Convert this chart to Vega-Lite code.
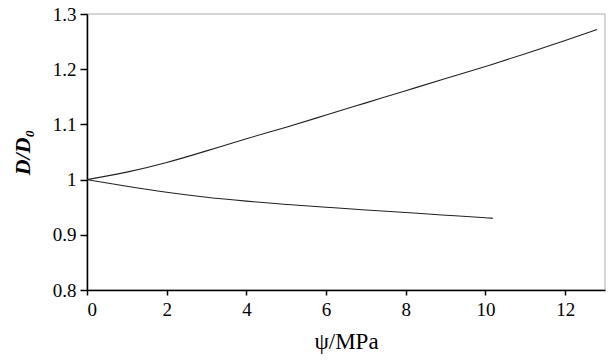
{
  "$schema": "https://vega.github.io/schema/vega-lite/v6.json",
  "width": 518,
  "height": 276,
  "autosize": {"type": "none"},
  "padding": {"left": 87, "top": 14, "right": 6, "bottom": 73},
  "background": "white",
  "config": {
    "view": {"stroke": "#c8c8c8", "strokeWidth": 1.5},
    "font": "Liberation Serif",
    "axis": {
      "grid": false,
      "domainColor": "black",
      "domainWidth": 1.5,
      "tickColor": "black",
      "tickWidth": 1.5,
      "labelColor": "black",
      "titleColor": "black"
    }
  },
  "data": {
    "values": [
      {"psi": 0, "r": 1.0, "s": "a"},
      {"psi": 1, "r": 1.0135, "s": "a"},
      {"psi": 2, "r": 1.031, "s": "a"},
      {"psi": 3, "r": 1.052, "s": "a"},
      {"psi": 4, "r": 1.074, "s": "a"},
      {"psi": 5, "r": 1.095, "s": "a"},
      {"psi": 6, "r": 1.117, "s": "a"},
      {"psi": 7, "r": 1.139, "s": "a"},
      {"psi": 8, "r": 1.161, "s": "a"},
      {"psi": 9, "r": 1.183, "s": "a"},
      {"psi": 10, "r": 1.205, "s": "a"},
      {"psi": 11, "r": 1.228, "s": "a"},
      {"psi": 12, "r": 1.252, "s": "a"},
      {"psi": 12.8, "r": 1.272, "s": "a"},
      {"psi": 0, "r": 1.0, "s": "b"},
      {"psi": 1, "r": 0.988, "s": "b"},
      {"psi": 2, "r": 0.977, "s": "b"},
      {"psi": 3, "r": 0.968, "s": "b"},
      {"psi": 4, "r": 0.961, "s": "b"},
      {"psi": 5, "r": 0.955, "s": "b"},
      {"psi": 6, "r": 0.950, "s": "b"},
      {"psi": 7, "r": 0.945, "s": "b"},
      {"psi": 8, "r": 0.9405, "s": "b"},
      {"psi": 9, "r": 0.9355, "s": "b"},
      {"psi": 10, "r": 0.931, "s": "b"},
      {"psi": 10.17, "r": 0.930, "s": "b"}
    ]
  },
  "mark": {"type": "line", "interpolate": "natural", "color": "#222222", "strokeWidth": 1.1},
  "encoding": {
    "x": {
      "field": "psi",
      "type": "quantitative",
      "scale": {"domain": [0, 13], "nice": false, "zero": false},
      "axis": {
        "values": [0, 2, 4, 6, 8, 10, 12],
        "tickSize": 5,
        "labelFont": "Liberation Serif",
        "labelFontSize": 19,
        "labelPadding": 5,
        "title": "ψ/MPa",
        "titleFont": "Liberation Serif",
        "titleFontSize": 23,
        "titleFontWeight": "normal",
        "titlePadding": 11
      }
    },
    "y": {
      "field": "r",
      "type": "quantitative",
      "scale": {"domain": [0.8, 1.3], "nice": false, "zero": false},
      "axis": {
        "values": [0.8, 0.9, 1.0, 1.1, 1.2, 1.3],
        "format": "~g",
        "tickSize": 7,
        "labelFont": "Liberation Serif",
        "labelFontSize": 19,
        "labelPadding": 4,
        "title": "D/D₀",
        "titleFont": "Liberation Serif",
        "titleFontSize": 22,
        "titleFontStyle": "italic",
        "titleFontWeight": "bold",
        "titlePadding": 18
      }
    },
    "detail": {"field": "s"}
  }
}
